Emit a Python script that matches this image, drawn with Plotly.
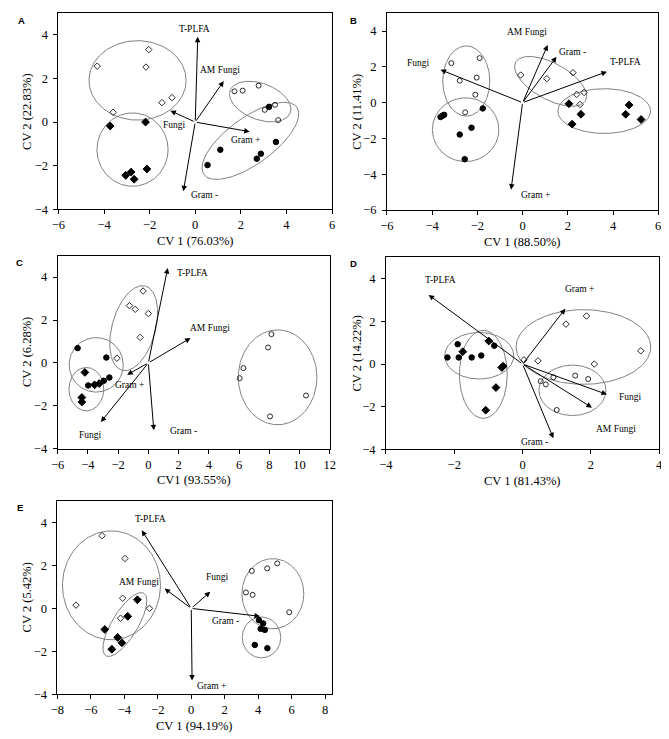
import numpy as np
import plotly.graph_objects as go

# ---------------- DATA ----------------
# Panel A
A_OD_X = [-4.30, -2.04, -2.16, -1.46, -1.02, -3.60]
A_OD_Y = [2.56, 3.32, 2.52, 0.89, 1.12, 0.45]
A_FD_X = [-3.73, -2.18, -3.05, -2.81, -2.68, -2.12]
A_FD_Y = [-0.18, 0.00, -2.44, -2.29, -2.62, -2.15]
A_OC_X = [1.72, 2.08, 2.78, 3.05, 3.50, 3.64]
A_OC_Y = [1.41, 1.44, 1.67, 0.56, 0.79, 0.09]
A_FC_X = [3.24, 3.54, 1.10, 0.54, 2.70, 2.88]
A_FC_Y = [0.70, -0.91, -1.27, -1.97, -1.68, -1.45]
A_ELL = [(-2.53, 1.91, 2.13, 0.00, 0.00, 1.82),
         (-2.75, -1.26, 1.56, 0.00, 0.00, 1.68),
         (2.85, 0.94, 1.32, -0.51, 0.27, 0.78),
         (2.42, -0.86, 2.04, 1.54, 0.59, -0.87)]
A_VEC = ["T-PLFA", "AM Fungi", "Fungi", "Gram +", "Gram -"]
A_VEC_X = [0.11, 1.25, -1.09, 2.39, -0.52]
A_VEC_Y = [3.91, 1.88, 0.52, -0.44, -3.17]
A_LAB_X = [-0.04, 1.10, -0.90, 2.21, 0.39]
A_LAB_Y = [4.26, 2.39, -0.14, -0.82, -3.32]

# Panel B
B_OC_X = [-3.15, -1.90, -2.78, -2.03, -2.09, -2.54]
B_OC_Y = [2.21, 2.49, 1.23, 1.40, 0.44, -0.54]
B_FC_X = [-3.63, -3.55, -3.47, -1.76, -2.78, -2.26, -2.56]
B_FC_Y = [-0.80, -0.73, -0.68, -0.32, -1.78, -1.40, -3.16]
B_OD_X = [-0.08, 1.07, 2.23, 2.39, 2.72, 2.54]
B_OD_Y = [1.54, 1.34, 1.67, 0.46, 0.57, -0.10]
B_FD_X = [2.05, 2.19, 2.58, 4.71, 4.56, 5.24]
B_FD_Y = [-0.06, -1.20, -0.65, -0.13, -0.65, -0.94]
B_ELL = [(-2.49, 1.21, 1.04, 0.00, 0.00, 1.96),
         (-2.52, -1.51, 1.47, 0.00, 0.00, 1.78),
         (1.24, 1.19, 1.55, -1.06, 0.37, 0.90),
         (3.61, -0.47, 2.05, 0.00, 0.00, 1.25)]
B_VEC = ["Fungi", "AM Fungi", "Gram -", "T-PLFA", "Gram +"]
B_VEC_X = [-3.63, 1.11, 1.50, 3.73, -0.51]
B_VEC_Y = [1.84, 3.22, 2.56, 1.73, -4.86]
B_LAB_X = [-4.60, 0.21, 2.22, 4.55, 0.57]
B_LAB_Y = [2.19, 3.96, 2.84, 2.25, -5.17]

# Panel C
C_FC_X = [-4.68, -2.78, -3.98, -2.95, -2.58]
C_FC_Y = [0.69, 0.25, -1.05, -0.83, -0.68]
C_FD_X = [-4.20, -3.25, -4.40, -4.40, -3.56]
C_FD_Y = [-0.44, -0.96, -1.61, -1.82, -1.02]
C_OD_X = [-0.35, -1.25, -0.87, 0.00, -0.54, -2.08]
C_OD_Y = [3.35, 2.67, 2.50, 2.30, 1.19, 0.22]
C_OC_X = [8.14, 7.92, 6.29, 6.04, 10.43, 8.05]
C_OC_Y = [1.34, 0.72, -0.24, -0.71, -1.52, -2.49]
C_ELL = [(-3.45, -0.09, 1.79, 0.00, 0.00, 1.27),
         (-4.10, -1.22, 1.15, 0.00, 0.00, 1.01),
         (-0.97, 1.62, 0.78, 1.96, 1.38, -0.28),
         (8.55, -0.67, 2.60, 0.00, 0.00, 2.21)]
C_VEC = ["T-PLFA", "AM Fungi", "Gram +", "Fungi", "Gram -"]
C_VEC_X = [1.28, 2.79, -1.40, -3.14, 0.36]
C_VEC_Y = [4.42, 1.16, -0.55, -2.75, -3.14]
C_LAB_X = [2.92, 4.05, -1.27, -3.84, 2.32]
C_LAB_Y = [4.19, 1.63, -1.02, -3.34, -3.15]

# Panel D
D_FC_X = [-2.20, -1.90, -1.87, -1.49, -1.21, -0.83]
D_FC_Y = [0.31, 0.93, 0.31, 0.31, 0.40, 0.86]
D_FD_X = [-1.75, -0.99, -0.61, -0.57, -0.78, -1.08]
D_FD_Y = [0.58, 1.08, -0.16, -0.10, -1.10, -2.16]
D_OD_X = [0.04, 0.45, 1.27, 1.87, 3.46, 2.10]
D_OD_Y = [0.20, 0.15, 1.87, 2.25, 0.62, 0.00]
D_OC_X = [0.53, 0.68, 0.90, 1.54, 1.92, 1.00]
D_OC_Y = [-0.80, -0.95, -0.62, -0.54, -0.70, -2.15]
D_ELL = [(-1.27, 0.39, 1.01, 0.00, 0.00, 1.09),
         (-1.15, -0.48, 0.70, 0.00, 0.00, 2.06),
         (1.78, 0.80, 1.97, 0.00, 0.00, 1.75),
         (1.46, -1.23, 0.98, 0.00, 0.00, 1.18)]
D_VEC = ["T-PLFA", "Gram +", "Fungi", "AM Fungi", "Gram -"]
D_VEC_X = [-2.75, 1.25, 2.47, 2.03, 0.90]
D_VEC_Y = [3.24, 2.59, -1.42, -2.04, -3.47]
D_LAB_X = [-2.39, 1.68, 3.17, 2.74, 0.35]
D_LAB_Y = [3.93, 3.52, -1.52, -3.03, -3.63]

# Panel E
E_OD_X = [-5.33, -3.96, -6.89, -4.10, -2.50, -4.23]
E_OD_Y = [3.38, 2.32, 0.15, 0.47, 0.00, -0.46]
E_FD_X = [-3.22, -3.80, -5.17, -4.40, -4.15, -4.75]
E_FD_Y = [0.40, -0.37, -0.98, -1.35, -1.60, -1.90]
E_OC_X = [3.62, 4.54, 5.14, 3.27, 3.67, 5.86]
E_OC_Y = [1.74, 1.86, 2.09, 0.74, 0.63, -0.18]
E_FC_X = [4.05, 4.30, 4.15, 4.40, 3.80, 4.55]
E_FC_Y = [-0.55, -0.70, -0.95, -1.00, -1.70, -1.85]
E_ELL = [(-4.77, 1.07, 2.93, 0.00, 0.00, 2.53),
         (-3.97, -0.75, 1.14, 1.45, 0.65, -0.32),
         (4.88, 0.68, 1.85, 0.00, 0.00, 1.63),
         (4.20, -1.35, 1.15, 0.00, 0.00, 0.95)]
E_VEC = ["T-PLFA", "AM Fungi", "Fungi", "Gram -", "Gram +"]
E_VEC_X = [-2.96, -1.59, 1.14, 4.11, 0.05]
E_VEC_Y = [3.63, 0.92, 0.77, -0.37, -3.35]
E_LAB_X = [-2.44, -3.12, 1.57, 2.06, 1.20]
E_LAB_Y = [4.16, 1.23, 1.47, -0.60, -3.60]

LETTERS = ["A", "B", "C", "D", "E"]
X_TITLES = ["CV 1 (76.03%)", "CV 1 (88.50%)", "CV1 (93.55%)", "CV 1 (81.43%)", "CV 1 (94.19%)"]
Y_TITLES = ["CV 2 (22.83%)", "CV 2 (11.41%)", "CV 2 (6.28%)", "CV 2 (14.22%)", "CV 2 (5.42%)"]
X_RANGES = [(-6, 6), (-6, 6), (-6, 12), (-4, 4), (-8, 8.4)]
Y_RANGES = [(-4, 5), (-6, 5), (-4, 5), (-4, 5), (-4, 5)]
X_TICKMAX = [6, 6, 12, 4, 8]

# ---------------- LAYOUT GEOMETRY (pixels) ----------------
W, H = 669, 739
BOX = [  # left, right, top, bottom in px
    (44.3, 323.3, 5.0, 203.3),
    (379.3, 656.0, 5.2, 204.0),
    (43.5, 321.0, 250.0, 445.0),
    (378.3, 657.0, 251.7, 445.7),
    (43.3, 323.0, 497.5, 693.0),
]
LETTER_POS = [(7, 13), (345, 13), (5, 257), (345, 258), (5, 504)]
YTITLE_X = [12, 348, 12, 349, 12]

SERIF = "Liberation Serif"
OPEN_COL = "#2a2a2a"

panels = [
    dict(pts=[(A_OD_X, A_OD_Y, "diamond-open"), (A_FD_X, A_FD_Y, "diamond"),
              (A_OC_X, A_OC_Y, "circle-open"), (A_FC_X, A_FC_Y, "circle")],
         ell=A_ELL, vec=A_VEC, vx=A_VEC_X, vy=A_VEC_Y, lx=A_LAB_X, ly=A_LAB_Y),
    dict(pts=[(B_OC_X, B_OC_Y, "circle-open"), (B_FC_X, B_FC_Y, "circle"),
              (B_OD_X, B_OD_Y, "diamond-open"), (B_FD_X, B_FD_Y, "diamond")],
         ell=B_ELL, vec=B_VEC, vx=B_VEC_X, vy=B_VEC_Y, lx=B_LAB_X, ly=B_LAB_Y),
    dict(pts=[(C_FC_X, C_FC_Y, "circle"), (C_FD_X, C_FD_Y, "diamond"),
              (C_OD_X, C_OD_Y, "diamond-open"), (C_OC_X, C_OC_Y, "circle-open")],
         ell=C_ELL, vec=C_VEC, vx=C_VEC_X, vy=C_VEC_Y, lx=C_LAB_X, ly=C_LAB_Y),
    dict(pts=[(D_FC_X, D_FC_Y, "circle"), (D_FD_X, D_FD_Y, "diamond"),
              (D_OD_X, D_OD_Y, "diamond-open"), (D_OC_X, D_OC_Y, "circle-open")],
         ell=D_ELL, vec=D_VEC, vx=D_VEC_X, vy=D_VEC_Y, lx=D_LAB_X, ly=D_LAB_Y),
    dict(pts=[(E_OD_X, E_OD_Y, "diamond-open"), (E_FD_X, E_FD_Y, "diamond"),
              (E_OC_X, E_OC_Y, "circle-open"), (E_FC_X, E_FC_Y, "circle")],
         ell=E_ELL, vec=E_VEC, vx=E_VEC_X, vy=E_VEC_Y, lx=E_LAB_X, ly=E_LAB_Y),
]

fig = go.Figure()
annotations = []
layout_axes = {}
phi = np.linspace(0, 2 * np.pi, 181)

for i, p in enumerate(panels):
    n = "" if i == 0 else str(i + 1)
    xa, ya = "x" + n, "y" + n
    l, r, t, b = BOX[i]
    # ellipses
    for (cx, cy, ux, uy, vx, vy) in p["ell"]:
        ex = cx + ux * np.cos(phi) + vx * np.sin(phi)
        ey = cy + uy * np.cos(phi) + vy * np.sin(phi)
        fig.add_trace(go.Scatter(x=ex, y=ey, mode="lines", xaxis=xa, yaxis=ya,
                                 line=dict(color="#808080", width=1),
                                 hoverinfo="skip", showlegend=False))
    # points
    for (px, py, sym) in p["pts"]:
        is_open = sym.endswith("open")
        if is_open:
            size = 5
        else:
            size = 5.5 if "circle" in sym else 6
        fig.add_trace(go.Scatter(x=px, y=py, mode="markers", xaxis=xa, yaxis=ya,
                                 marker=dict(symbol=sym, size=size,
                                             color=OPEN_COL if is_open else "black",
                                             line=dict(width=1, color=OPEN_COL if is_open else "black")),
                                 showlegend=False))
    # arrows + labels
    for name, tx, ty, lx, ly in zip(p["vec"], p["vx"], p["vy"], p["lx"], p["ly"]):
        annotations.append(dict(x=tx, y=ty, ax=0, ay=0, xref=xa, yref=ya,
                                axref=xa, ayref=ya, text="", showarrow=True,
                                arrowhead=2, arrowsize=1.1, arrowwidth=1,
                                arrowcolor="black", standoff=0, startstandoff=0))
        annotations.append(dict(x=lx, y=ly, xref=xa, yref=ya, text=name,
                                showarrow=False, font=dict(family=SERIF, size=9.5, color="black"),
                                xanchor="center", yanchor="middle"))
    # axes
    x0, x1 = X_RANGES[i]
    y0, y1 = Y_RANGES[i]
    axcommon = dict(showline=True, linecolor="black", linewidth=1, mirror=True,
                    ticks="outside", ticklen=4, tickcolor="black", tickwidth=1,
                    showgrid=False, zeroline=False,
                    tickfont=dict(family=SERIF, size=12.5, color="black"))
    layout_axes["xaxis" + n] = dict(axcommon, domain=[l / W, r / W], range=[x0, x1],
                                    tickmode="array",
                                    tickvals=list(range(int(x0), X_TICKMAX[i] + 1, 2)),
                                    anchor=ya)
    layout_axes["yaxis" + n] = dict(axcommon, domain=[1 - b / H, 1 - t / H], range=[y0, y1],
                                    tickmode="array",
                                    tickvals=list(range(int(y0), 5, 2)),
                                    anchor=xa, ticklabelstandoff=3)
    # titles
    annotations.append(dict(x=(l + r) / 2 / W, y=1 - (b + 32) / H, xref="paper", yref="paper",
                            text=X_TITLES[i], showarrow=False,
                            font=dict(family=SERIF, size=12.5, color="black"),
                            xanchor="center", yanchor="middle"))
    annotations.append(dict(x=YTITLE_X[i] / W, y=1 - (t + b) / 2 / H, xref="paper", yref="paper",
                            text=Y_TITLES[i], showarrow=False, textangle=-90,
                            font=dict(family=SERIF, size=12.5, color="black"),
                            xanchor="center", yanchor="middle"))
    lxp, lyp = LETTER_POS[i]
    annotations.append(dict(x=lxp / W, y=1 - lyp / H, xref="paper", yref="paper",
                            text="<b>" + LETTERS[i] + "</b>", showarrow=False,
                            font=dict(family="Liberation Sans", size=9.5, color="black"),
                            xanchor="center", yanchor="middle"))

fig.update_layout(width=W, height=H, margin=dict(l=0, r=0, t=0, b=0),
                  paper_bgcolor="white", plot_bgcolor="white",
                  annotations=annotations, showlegend=False, **layout_axes)

fig.write_html("out.html")
